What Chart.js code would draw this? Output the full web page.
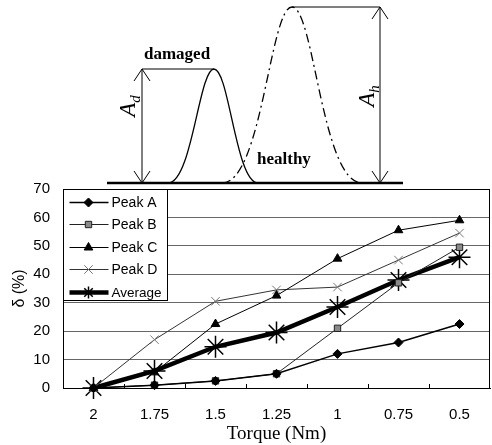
<!DOCTYPE html>
<html>
<head>
<meta charset="utf-8">
<script src="https://cdn.jsdelivr.net/npm/chart.js@4/dist/chart.umd.min.js"></script>
<style>
html,body{margin:0;padding:0;background:#fff;}
#wrap{width:492px;height:445px;position:relative;}
</style>
</head>
<body>
<div id="wrap"><canvas id="c" width="492" height="445"></canvas></div>
<script>
const categories = ['2', '1.75', '1.5', '1.25', '1', '0.75', '0.5'];
const peakA   = [0, 1, 2.5, 5, 12, 16, 22.5];
const peakB   = [0, 1, 2.5, 5, 21, 37, 49.5];
const peakC   = [0, 5.5, 22.5, 32.5, 45.5, 55.5, 59];
const peakD   = [0, 17, 30.5, 34.5, 35.5, 45, 54.5];
const average = [0, 6, 14.5, 19.5, 28.5, 38, 46];
const seriesNames = ['Peak A', 'Peak B', 'Peak C', 'Peak D', 'Average'];
const yTitle = 'δ (%)';
const xTitle = 'Torque (Nm)';

const SANS = '"Liberation Sans", Arial, sans-serif';
const SERIF = '"Liberation Serif", "Times New Roman", serif';

// Schematic illustration above the plot (not data)
const illustration = {
  id: 'illustration',
  afterDraw(chart) {
    const ctx = chart.ctx;
    ctx.save();
    ctx.strokeStyle = '#000';
    ctx.fillStyle = '#000';
    ctx.lineWidth = 2.5;
    ctx.beginPath(); ctx.moveTo(107, 183); ctx.lineTo(403, 183); ctx.stroke();
    ctx.lineWidth = 1.3;
    ctx.beginPath();
    ctx.moveTo(168, 183);
    ctx.bezierCurveTo(192, 183, 199, 69, 214, 69);
    ctx.bezierCurveTo(229, 69, 236, 183, 258, 183);
    ctx.stroke();
    ctx.setLineDash([9, 4, 2, 4]);
    ctx.beginPath();
    ctx.moveTo(222, 183);
    ctx.bezierCurveTo(262, 183, 270, 7, 292, 7);
    ctx.bezierCurveTo(314, 7, 322, 183, 362, 183);
    ctx.stroke();
    ctx.setLineDash([]);
    ctx.lineWidth = 1;
    ctx.beginPath(); ctx.moveTo(142, 69); ctx.lineTo(214, 69); ctx.stroke();
    ctx.beginPath(); ctx.moveTo(292, 7); ctx.lineTo(380, 7); ctx.stroke();
    function arrow(x, y1, y2) {
      ctx.beginPath(); ctx.moveTo(x, y1); ctx.lineTo(x, y2); ctx.stroke();
      ctx.beginPath();
      ctx.moveTo(x - 8, y1 + 12); ctx.lineTo(x, y1); ctx.lineTo(x + 8, y1 + 12);
      ctx.moveTo(x - 8, y2 - 12); ctx.lineTo(x, y2); ctx.lineTo(x + 8, y2 - 12);
      ctx.stroke();
    }
    arrow(142, 69, 183);
    arrow(380, 7, 183);
    ctx.font = 'bold 17px ' + SERIF;
    ctx.textBaseline = 'alphabetic';
    ctx.fillText('damaged', 144, 59);
    ctx.fillText('healthy', 257, 164);
    function rotLabel(x, y, main, sub) {
      ctx.save();
      ctx.translate(x, y);
      ctx.rotate(-Math.PI / 2);
      ctx.font = 'italic 23px ' + SERIF;
      const w = ctx.measureText(main).width;
      ctx.font = 'italic 15px ' + SERIF;
      const ws = ctx.measureText(sub).width;
      const start = -(w + ws) / 2;
      ctx.font = 'italic 23px ' + SERIF;
      ctx.textBaseline = 'middle';
      ctx.fillText(main, start, 0);
      ctx.font = 'italic 15px ' + SERIF;
      ctx.fillText(sub, start + w, 7);
      ctx.restore();
    }
    rotLabel(129, 106, 'A', 'd');
    rotLabel(368, 96, 'A', 'h');
    ctx.restore();
  }
};

// Plot frame, inner category ticks and in-plot legend
const frameAndLegend = {
  id: 'frameAndLegend',
  afterDatasetsDraw(chart) {
    const ctx = chart.ctx;
    const a = chart.chartArea;
    const xs = chart.scales.x;
    ctx.save();
    ctx.strokeStyle = '#000';
    ctx.lineWidth = 1;
    for (let i = 0; i < categories.length - 1; i++) {
      const px = Math.round((xs.getPixelForValue(i) + xs.getPixelForValue(i + 1)) / 2) + 0.5;
      ctx.beginPath(); ctx.moveTo(px, a.bottom); ctx.lineTo(px, a.bottom - 4); ctx.stroke();
    }
    ctx.strokeRect(Math.round(a.left) + 0.5, Math.round(a.top) + 0.5,
                   Math.round(a.right - a.left) - 1, Math.round(a.bottom - a.top));
    const lx = Math.round(a.left) + 0.5, ly = Math.round(a.top) + 0.5;
    const lw = 104, lh = 111;
    ctx.fillStyle = '#fff';
    ctx.fillRect(lx, ly, lw, lh);
    ctx.strokeRect(lx, ly, lw, lh);
    const rowY = [13, 35, 58, 80, 103];
    chart.data.datasets.forEach((ds, i) => {
      const y = ly + rowY[i];
      ctx.strokeStyle = ds.borderColor;
      ctx.lineWidth = ds.borderWidth;
      ctx.beginPath(); ctx.moveTo(lx + 6, y); ctx.lineTo(lx + 45, y); ctx.stroke();
      ctx.save();
      ctx.fillStyle = ds.pointBackgroundColor;
      ctx.strokeStyle = ds.pointBorderColor;
      ctx.lineWidth = ds.pointBorderWidth;
      Chart.helpers.drawPoint(ctx, {
        pointStyle: ds.pointStyle,
        radius: Math.min(ds.pointRadius, 6),
        borderWidth: ds.pointBorderWidth,
        rotation: 0
      }, lx + 25, y);
      ctx.restore();
      ctx.fillStyle = '#000';
      ctx.font = (i === 4 ? '13.5px ' : '14px ') + SANS;
      ctx.textBaseline = 'middle';
      ctx.fillText(ds.label, lx + 48, y + 1);
    });
    ctx.restore();
  }
};

new Chart(document.getElementById('c'), {
  type: 'line',
  data: {
    labels: categories,
    datasets: [
      { label: seriesNames[0], data: peakA, borderColor: '#000', borderWidth: 1.5,
        pointStyle: 'rectRot', pointRadius: 4.5, pointBackgroundColor: '#000',
        pointBorderColor: '#000', pointBorderWidth: 1 },
      { label: seriesNames[1], data: peakB, borderColor: '#222', borderWidth: 1,
        pointStyle: 'rect', pointRadius: 4.5, pointBackgroundColor: '#8a8a8a',
        pointBorderColor: '#222', pointBorderWidth: 1 },
      { label: seriesNames[2], data: peakC, borderColor: '#000', borderWidth: 1,
        pointStyle: 'triangle', pointRadius: 5, pointBackgroundColor: '#000',
        pointBorderColor: '#000', pointBorderWidth: 1 },
      { label: seriesNames[3], data: peakD, borderColor: '#333', borderWidth: 1,
        pointStyle: 'crossRot', pointRadius: 6, pointBackgroundColor: '#777',
        pointBorderColor: '#777', pointBorderWidth: 1 },
      { label: seriesNames[4], data: average, borderColor: '#000', borderWidth: 4.5,
        pointStyle: 'star', pointRadius: 11, pointBackgroundColor: '#000',
        pointBorderColor: '#000', pointBorderWidth: 1.5 }
    ]
  },
  options: {
    responsive: false,
    animation: false,
    clip: false,
    layout: { autoPadding: false, padding: { top: 189, right: 2, left: 0, bottom: 0 } },
    elements: { line: { tension: 0 } },
    plugins: { legend: { display: false }, tooltip: { enabled: false } },
    scales: {
      x: {
        offset: true,
        afterFit: s => { s.height = 57; s.paddingLeft = 0; s.paddingRight = 0; },
        grid: { display: false, drawTicks: false },
        border: { display: true, color: '#000', width: 1 },
        ticks: { color: '#000', font: { family: SANS, size: 15 }, padding: 18, maxRotation: 0 },
        title: { display: true, text: xTitle, color: '#000',
                 font: { family: SERIF, size: 19 }, padding: { top: 0, bottom: 0 } }
      },
      y: {
        min: 0, max: 70,
        afterFit: s => { s.width = 63; },
        grid: { color: '#666', lineWidth: 1, drawTicks: false },
        border: { display: true, color: '#000', width: 1 },
        ticks: { stepSize: 10, color: '#000', font: { family: SANS, size: 15 }, padding: 13 },
        title: { display: true, text: yTitle, color: '#000',
                 font: { family: SANS, size: 16 }, padding: { top: 10, bottom: 0 } }
      }
    }
  },
  plugins: [illustration, frameAndLegend]
});
</script>
</body>
</html>
